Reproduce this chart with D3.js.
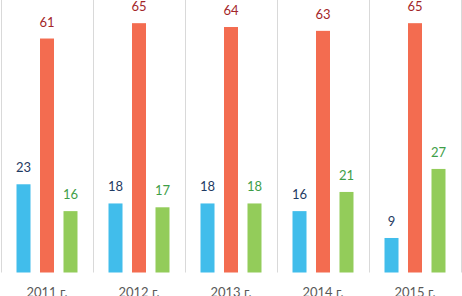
<!DOCTYPE html>
<html><head><meta charset="utf-8">
<script src="https://cdn.jsdelivr.net/npm/d3@7"></script>
<style>body{margin:0;background:#fff}svg{display:block}</style>
</head><body>
<svg id="c" width="462" height="296"></svg>
<script>
const categories = ["2011 г.", "2012 г.", "2013 г.", "2014 г.", "2015 г."];
const seriesNames = ["s1", "s2", "s3"];
const series1 = [23, 18, 18, 16, 9];
const series2 = [61, 65, 64, 63, 65];
const series3 = [16, 17, 18, 21, 27];
const barColors = ["#41BDEB", "#F36C50", "#93CC5A"];
const labelColors = ["#1F3B63", "#A3262A", "#3E9E48"];

(function(){
const svg = d3.select("#c");
const pLeft = 1, pRight = 461, base = 272.5, pTop = 4;
const x0 = d3.scaleBand().domain(categories).range([pLeft, pRight]).padding(0);
const x1 = d3.scaleBand().domain(seriesNames).range([0, x0.bandwidth()]).paddingInner(0.404).paddingOuter(0.66);
const y = d3.scaleLinear().domain([0, 70]).range([base, pTop]);

const seps = categories.map((c) => x0(c)).concat([x0(categories[categories.length-1]) + x0.bandwidth()]);
svg.selectAll("line.sep").data(seps).enter().append("line")
  .attr("x1", d => Math.round(d) + 0.5).attr("x2", d => Math.round(d) + 0.5)
  .attr("y1", 0).attr("y2", base)
  .attr("stroke", "#D9D9D9").attr("stroke-width", 1);

const all = [series1, series2, series3];
const rows = [];
categories.forEach((c, i) => all.forEach((s, j) => rows.push({c, j, v: s[i]})));

svg.selectAll("rect.bar").data(rows).enter().append("rect")
  .attr("x", d => x0(d.c) + x1(seriesNames[d.j]))
  .attr("width", x1.bandwidth())
  .attr("y", d => y(d.v))
  .attr("height", d => base - y(d.v))
  .attr("fill", d => barColors[d.j]);

svg.selectAll("text.lab").data(rows).enter().append("text")
  .attr("x", d => x0(d.c) + x1(seriesNames[d.j]) + x1.bandwidth()/2)
  .attr("y", d => y(d.v) - 12)
  .attr("text-anchor", "middle")
  .attr("font-family", "Lato, 'Open Sans', sans-serif")
  .attr("font-size", 13)
  .attr("fill", d => labelColors[d.j])
  .text(d => d.v);

const xAxis = d3.axisBottom(x0).tickSize(0).tickPadding(0);
const gx = svg.append("g").attr("transform", `translate(0,${base})`).call(xAxis);
gx.select(".domain").remove();
gx.selectAll("text")
  .attr("y", 24)
  .attr("dy", 0)
  .attr("font-family", "Lato, 'Open Sans', sans-serif")
  .attr("font-size", 13)
  .attr("fill", "#595959");
})();
</script>
</body></html>
